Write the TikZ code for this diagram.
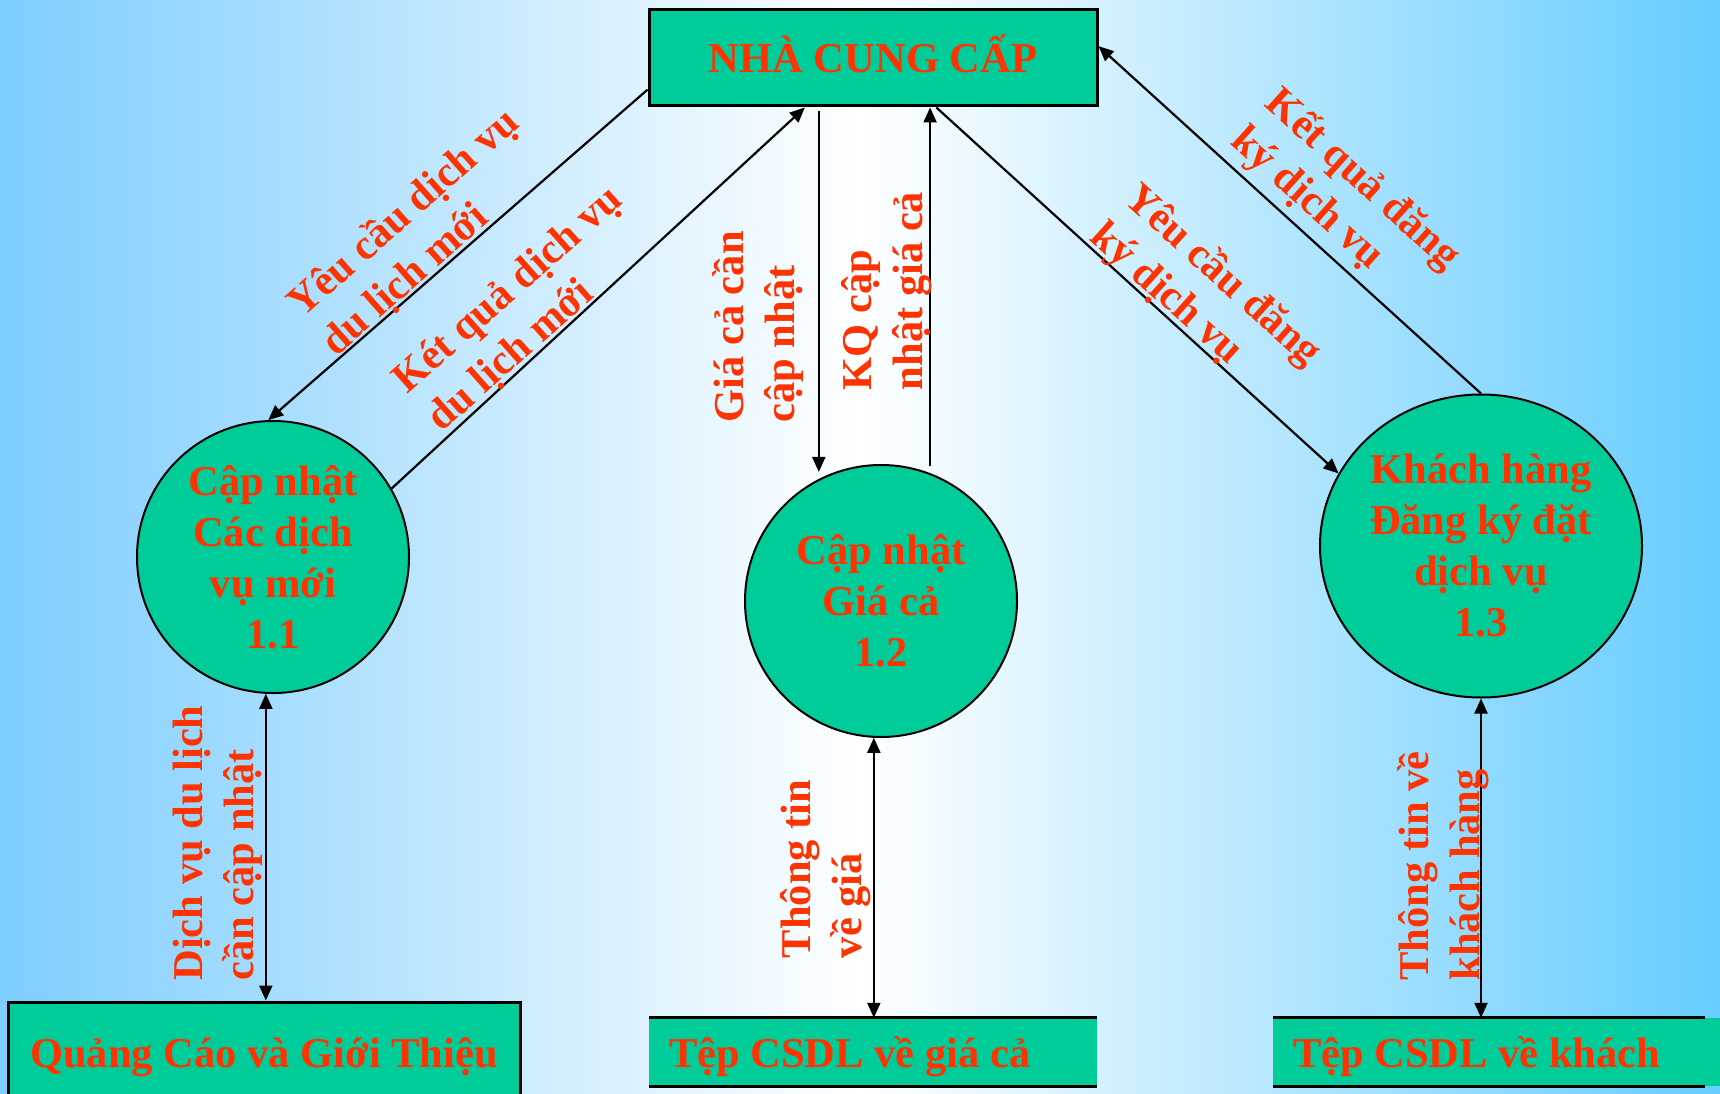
\documentclass[tikz,border=0pt]{standalone}
\usepackage{fontspec}
\setmainfont{Liberation Serif}
\usetikzlibrary{arrows.meta,shapes.geometric}
\definecolor{procgreen}{HTML}{00CC99}
\definecolor{flowred}{HTML}{FF3300}
\definecolor{skyleft}{RGB}{125,205,255}
\definecolor{skyright}{RGB}{102,204,255}

\begin{document}
\begin{tikzpicture}[x=1pt,y=-1pt,
    font=\fontsize{42.5}{51}\selectfont\bfseries, text=flowred,
    proc/.style={draw,circle,line width=2pt,fill=procgreen,align=center,inner sep=0pt,minimum size=272pt},
    ent/.style={draw,rectangle,line width=3pt,fill=procgreen,minimum width=448pt,minimum height=96pt,text height=36pt,text depth=6pt},
    store/.style={rectangle,fill=procgreen,minimum height=68pt,inner xsep=20pt,text width=408pt,align=flush left,text height=36pt,text depth=6pt},
    flow/.style={line width=2.2pt,-{Triangle[length=15pt,width=13pt]}},
    dflow/.style={line width=2.2pt,{Triangle[length=15pt,width=13pt]}-{Triangle[length=15pt,width=13pt]}},
    lbl/.style={align=left,inner sep=0pt}]
    \useasboundingbox (0,0) rectangle (1720,1094);
    \clip (0,0) rectangle (1720,1094);
    \fill[left color=skyleft,right color=skyright,middle color=white] (0,0) rectangle (1720,1094);

    \node[ent] (nhacc) at (873,58) {NHÀ CUNG CẤP};
    \node[proc] (c11) at (273,557) {Cập nhật\\Các dịch\\vụ mới\\1.1};
    \node[proc] (c12) at (881,601) {Cập nhật\\Giá cả\\1.2};
    \node[proc,ellipse,minimum width=322pt,minimum height=303pt] (c13) at (1481,546) {Khách hàng\\Đăng ký đặt\\dịch vụ\\1.3};

    \node[ent,minimum width=512pt,minimum height=100pt] (ads) at (264,1052) {Quảng Cáo và Giới Thiệu};
    \node[store] (price) at (873,1052) {Tệp CSDL về giá cả};
    \node[store] (cust) at (1497,1052) {Tệp CSDL về khách};
    \draw[line width=3pt] (price.north west) -- (price.north east) (price.south west) -- (price.south east);
    \draw[line width=3pt] (cust.north west) -- ([xshift=-16pt]cust.north east) (cust.south west) -- ([xshift=-16pt]cust.south east);

    \draw[flow] (nhacc.188) -- (c11.92);
    \draw[flow] (c11.30) -- (nhacc.216);
    \draw[flow,shorten <=4pt,shorten >=7pt] (c12.117 |- nhacc.south) -- (c12.117);
    \draw[flow,shorten <=7pt] (c12.69) -- (c12.69 |- nhacc.south);
    \draw[flow] (nhacc.-38) -- (c13.153);
    \draw[flow] (c13.north) -- (nhacc.3);
    \draw[dflow] (c11.267) -- (c11.267 |- ads.north);
    \draw[dflow] (c12.267) -- (c12.267 |- price.north);
    \draw[dflow] (c13.south) -- (c13.south |- cust.north);

    \node[lbl,rotate=41.5] (l1) at (421,233) {Yêu cầu dịch vụ\\du lịch mới};
    \node[lbl,rotate=41.5] (l2) at (526,310) {Két quả dịch vụ\\du lịch mới};
    \node[lbl,rotate=90] (l3) at (758,327) {Giá cả cần\\cập nhật};
    \node[lbl,rotate=90] (l4) at (887,291) {KQ cập\\nhật giá cả};
    \node[lbl,rotate=-42] (l5) at (1205,295) {Yêu cầu đăng\\ký dịch vụ};
    \node[lbl,rotate=-42] (l6) at (1345,199) {Kết quả đăng\\ký dịch vụ};
    \node[lbl,rotate=90] (l7) at (218,843) {Dịch vụ du lịch\\cần cập nhật};
    \node[lbl,rotate=90] (l8) at (826,869) {Thông tin\\về giá};
    \node[lbl,rotate=90] (l9) at (1443,866) {Thông tin về\\khách hàng};
\end{tikzpicture}
\end{document}
